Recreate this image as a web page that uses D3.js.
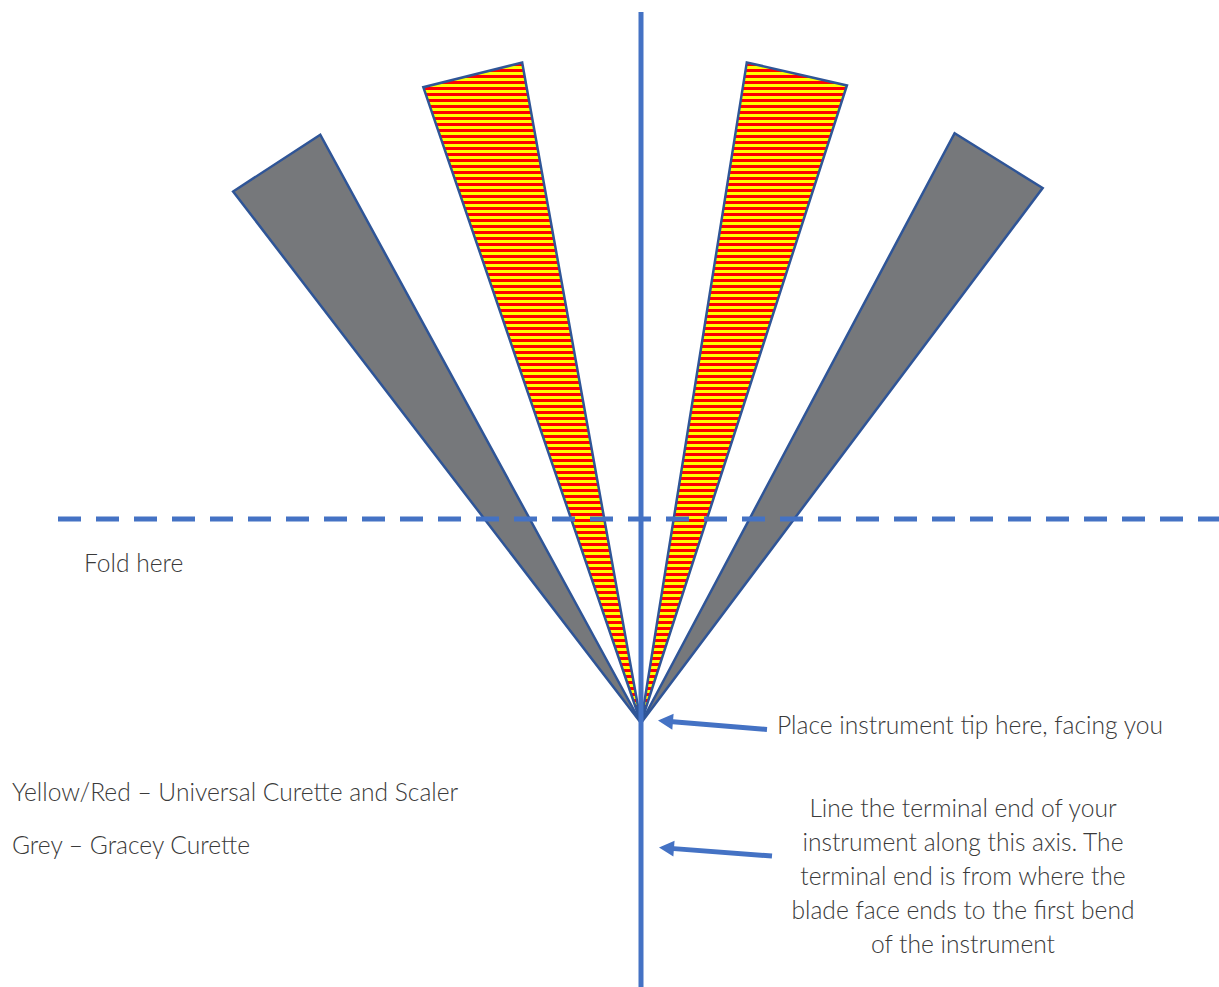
<!DOCTYPE html>
<html>
<head>
<meta charset="utf-8">
<script src="https://cdn.jsdelivr.net/npm/d3@7"></script>
<style>
  html, body { margin: 0; padding: 0; background: #fff; }
  svg { display: block; }
  text { font-family: Lato, "Open Sans", sans-serif; font-weight: 300; fill: #3a3a3a; }
</style>
</head>
<body>
<div id="canvas"></div>
<script>
// blade edges, degrees from the vertical axis (negative = left), all from the same tip
const bladeNames = ["greyLeft", "stripeLeft", "stripeRight", "greyRight"];
const bladeKinds = ["grey", "stripe", "stripe", "grey"];
const bladeAngles = [[-37.5, -28.6], [-18.9, -10.2], [9.1, 17.9], [28.0, 36.9]];
const bladeLengths = [[670, 670], [672, 671], [669, 670], [668, 669]];

const legendLines = ["Yellow/Red \u2013 Universal Curette and Scaler", "Grey \u2013 Gracey Curette"];
const tipLabel = "Place instrument tip here, facing you";
const axisLabel = ["Line the terminal end of your", "instrument along this axis. The",
  "terminal end is from where the", "blade face ends to the first bend", "of the instrument"];
const foldLabel = "Fold here";

drawChart();

function drawChart() {
  const width = 1219;
  const height = 987;
  const tip = { x: 641, y: 723 };
  const fs = 24.6;

  const svg = d3.select("#canvas").append("svg")
    .attr("width", width)
    .attr("height", height);

  // polar -> pixel
  const r = d3.scaleLinear().domain([0, 1]).range([0, 1]);
  const ang = d3.scaleLinear().domain([-180, 180]).range([-Math.PI, Math.PI]);
  const px = (a, len) => [tip.x + r(len) * Math.sin(ang(a)), tip.y - r(len) * Math.cos(ang(a))];

  const defs = svg.append("defs");
  const pat = defs.append("pattern")
    .attr("id", "stripes")
    .attr("patternUnits", "userSpaceOnUse")
    .attr("width", 12).attr("height", 6);
  pat.append("rect").attr("width", 12).attr("height", 3).attr("y", 0).attr("fill", "#ffff00")
    .attr("shape-rendering", "crispEdges");
  pat.append("rect").attr("width", 12).attr("height", 3).attr("y", 3).attr("fill", "#ff0000")
    .attr("shape-rendering", "crispEdges");

  const blades = bladeNames.map((n, i) => ({
    name: n,
    kind: bladeKinds[i],
    pts: [[tip.x, tip.y], px(bladeAngles[i][0], bladeLengths[i][0]), px(bladeAngles[i][1], bladeLengths[i][1])]
  }));

  const line = d3.line().curve(d3.curveLinearClosed);

  svg.append("g").selectAll("path").data(blades).enter().append("path")
    .attr("d", d => line(d.pts))
    .attr("fill", d => d.kind === "grey" ? "#76787b" : "url(#stripes)")
    .attr("stroke", "#2f5597")
    .attr("stroke-width", 2.5)
    .attr("stroke-linejoin", "miter");

  // fold line
  svg.append("line")
    .attr("x1", 58).attr("x2", width)
    .attr("y1", 519).attr("y2", 519)
    .attr("stroke", "#4472c4")
    .attr("stroke-width", 5)
    .attr("stroke-dasharray", "23,15");

  // axis
  svg.append("line")
    .attr("x1", tip.x).attr("x2", tip.x)
    .attr("y1", 12).attr("y2", height)
    .attr("stroke", "#4472c4")
    .attr("stroke-width", 5);

  // arrows
  const arrows = [
    { from: [767, 729.5], to: [658, 720.5] },
    { from: [772, 856], to: [659, 847.5] }
  ];
  const ag = svg.append("g");
  arrows.forEach(a => {
    const dx = a.to[0] - a.from[0], dy = a.to[1] - a.from[1];
    const L = Math.hypot(dx, dy), ux = dx / L, uy = dy / L, nx = -uy, ny = ux;
    const hl = 15, hw = 8, sw = 2.5;
    const bx = a.to[0] - ux * hl, by = a.to[1] - uy * hl;
    const pts = [
      [a.from[0] + nx * sw, a.from[1] + ny * sw],
      [bx + nx * sw, by + ny * sw],
      [bx + nx * hw, by + ny * hw],
      a.to,
      [bx - nx * hw, by - ny * hw],
      [bx - nx * sw, by - ny * sw],
      [a.from[0] - nx * sw, a.from[1] - ny * sw]
    ];
    ag.append("path").attr("d", line(pts)).attr("fill", "#4472c4");
  });

  // texts
  svg.append("text").attr("x", 84).attr("y", 572).attr("font-size", fs).text(foldLabel);

  svg.append("text").attr("x", 777).attr("y", 734).attr("font-size", fs).text(tipLabel);

  svg.append("g").selectAll("text").data(axisLabel).enter().append("text")
    .attr("x", 963)
    .attr("y", (d, i) => 817 + i * 34)
    .attr("text-anchor", "middle")
    .attr("font-size", fs)
    .text(d => d);

  svg.append("g").selectAll("text").data(legendLines).enter().append("text")
    .attr("x", 12)
    .attr("y", (d, i) => 801 + i * 53)
    .attr("font-size", fs)
    .text(d => d);
}
</script>
</body>
</html>
